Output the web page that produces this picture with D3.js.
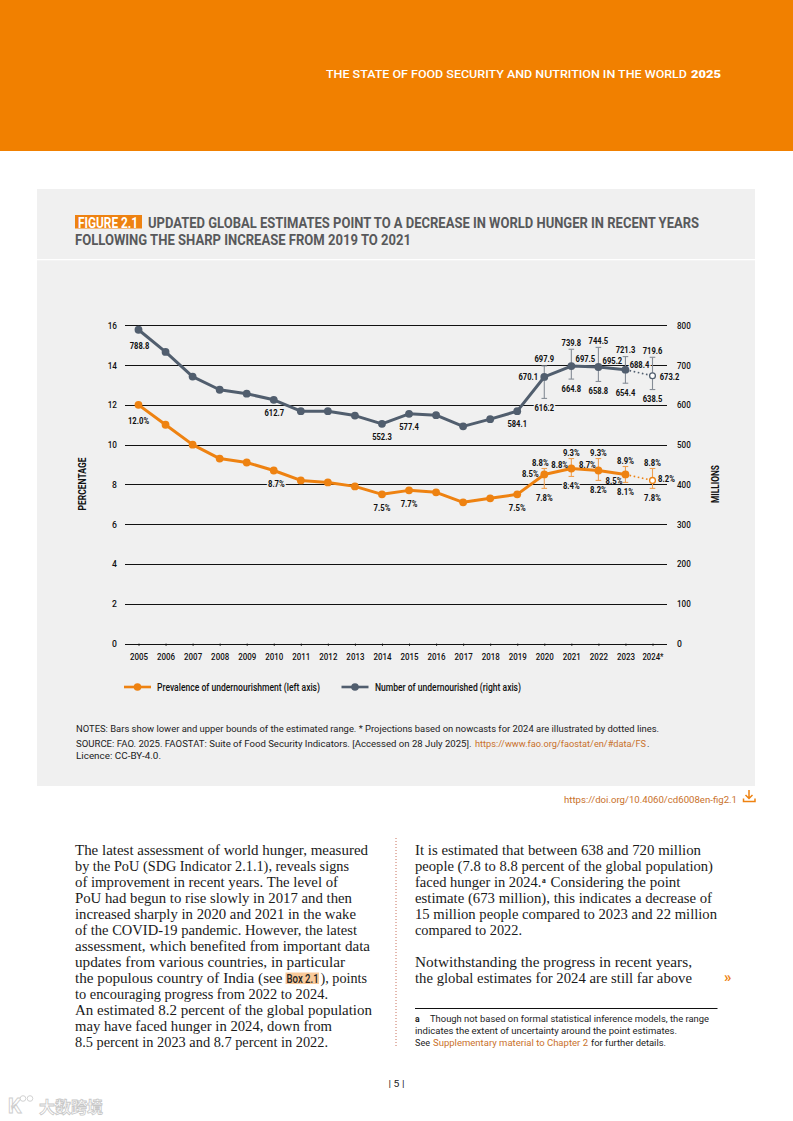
<!DOCTYPE html>
<html><head><meta charset="utf-8">
<script src="https://cdn.jsdelivr.net/npm/d3@7"></script>
<style>
html,body{margin:0;padding:0;background:#fff}
svg{display:block}
text{font-family:Roboto,sans-serif}
</style></head><body>
<svg id="page" width="793" height="1121"></svg>
<script>
// ---------- chart data ----------
const years = ["2005","2006","2007","2008","2009","2010","2011","2012","2013","2014","2015","2016","2017","2018","2019","2020","2021","2022","2023","2024*"];
const prevalence = [12.0,11.0,10.0,9.3,9.1,8.7,8.2,8.1,7.9,7.5,7.7,7.6,7.1,7.3,7.5,8.5,8.8,8.7,8.5,8.2];
const undernourished = [788.8,733,671,638,628,612.7,584,584,573,552.3,577.4,574,546,564,584.1,670.1,697.5,695.2,688.4,673.2];
const boundYears = ["2020","2021","2022","2023","2024*"];
const prevalenceLow = [7.8,8.4,8.2,8.1,7.8];
const prevalenceHigh = [8.8,9.3,9.3,8.9,8.8];
const undernourishedLow = [616.2,664.8,658.8,654.4,638.5];
const undernourishedHigh = [697.9,739.8,744.5,721.3,719.6];
const labelledPrevalenceYears = ["2005","2010","2014","2015","2019","2020","2021","2022","2023","2024*"];
const labelledNumberYears = ["2005","2010","2014","2015","2019","2020","2021","2022","2023","2024*"];
const leftTicks = [0,2,4,6,8,10,12,14,16];
const rightTicks = [0,100,200,300,400,500,600,700,800];

// ---------- layout ----------
const svg = d3.select("#page");
const ORANGE="#ee8211", SLATE="#515e6e", PANEL="#f0f0f0", LINK="#c9712b";
const x = d3.scalePoint().domain(years).range([138.5,652.5]);
const yL = d3.scaleLinear().domain([0,16]).range([643.5,325.3]);
const yR = d3.scaleLinear().domain([0,800]).range([643.5,325.3]);

function fit(parent,str,px,py,w,o={}){
  const t=parent.append("text").attr("x",px).attr("y",py).text(str)
    .attr("font-size",o.size||10).attr("fill",o.fill||"#111")
    .attr("font-weight",o.weight||"normal").style("font-family",o.font||null);
  if(w) t.attr("textLength",w).attr("lengthAdjust","spacingAndGlyphs");
  return t;
}
// width of a condensed chart numeral string
const narrowWidth=s=>d3.sum(Array.from(s),c=>c==="."?2:c==="%"?6:c==="*"?3:4.4);
const SANS='Roboto,sans-serif', SERIF='"Liberation Serif",serif';

// page furniture
svg.append("rect").attr("width",793).attr("height",151).attr("fill","#f18000");
fit(svg,"THE STATE OF FOOD SECURITY AND NUTRITION IN THE WORLD",326,78,361,{size:11,fill:"#fff",weight:500,font:SANS});
fit(svg,"2025",691,78,30,{size:11.5,fill:"#fff",weight:900,font:SANS});
svg.append("rect").attr("x",37).attr("y",189).attr("width",718).attr("height",597).attr("fill",PANEL);
svg.append("rect").attr("x",37).attr("y",259).attr("width",718).attr("height",1.3).attr("fill","#fff");

// title
svg.append("rect").attr("x",75).attr("y",215).attr("width",67).attr("height",13.5).attr("fill",ORANGE);
fit(svg,"FIGURE 2.1",78,227.7,60,{size:15,fill:"#fff",weight:"bold"});
fit(svg,"UPDATED GLOBAL ESTIMATES POINT TO A DECREASE IN WORLD HUNGER IN RECENT YEARS",148,227.7,551,{size:15,fill:"#58595b",weight:"bold"});
fit(svg,"FOLLOWING THE SHARP INCREASE FROM 2019 TO 2021",75,245,336,{size:15,fill:"#58595b",weight:"bold"});

// grid
const chart = svg.append("g");
chart.append("g").selectAll("line").data(leftTicks).join("line")
  .attr("x1",125).attr("x2",667).attr("y1",d=>Math.round(yL(d))+.5).attr("y2",d=>Math.round(yL(d))+.5)
  .attr("stroke","#111").attr("stroke-width",1);

// axes
const axL = chart.append("g").attr("transform","translate(117,0)").call(d3.axisLeft(yL).tickValues(leftTicks).tickSize(0).tickPadding(0));
const axR = chart.append("g").attr("transform","translate(677,0)").call(d3.axisRight(yR).tickValues(rightTicks).tickSize(0).tickPadding(0));
const axB = chart.append("g").attr("transform","translate(0,643.5)").call(d3.axisBottom(x).tickSize(2.5).tickPadding(7.5));
[axL,axR,axB].forEach(a=>{
  a.select(".domain").remove();
  a.selectAll("text").attr("font-size",9.5).attr("fill","#111").attr("font-weight",500)
    .attr("lengthAdjust","spacingAndGlyphs").attr("textLength",function(){return narrowWidth(this.textContent)+.5;});
});
axB.selectAll("line").attr("stroke","#111").attr("stroke-width",.8);

chart.append("text").attr("transform","translate(86,484) rotate(-90)").attr("text-anchor","middle")
  .attr("font-size",10).attr("font-weight","bold").attr("fill","#111").attr("textLength",53).attr("lengthAdjust","spacingAndGlyphs").text("PERCENTAGE");
chart.append("text").attr("transform","translate(719,484) rotate(-90)").attr("text-anchor","middle")
  .attr("font-size",10).attr("font-weight","bold").attr("fill","#111").attr("textLength",38).attr("lengthAdjust","spacingAndGlyphs").text("MILLIONS");

// series
function drawSeries(vals,lows,highs,y,color,barColor){
  const g=chart.append("g");
  const line=d3.line().x((d,i)=>x(years[i])).y(d=>y(d));
  const b=boundYears.map((yr,i)=>({yr,lo:lows[i],hi:highs[i]}));
  g.selectAll("line.bar").data(b).join("line").attr("class","bar")
    .attr("x1",d=>x(d.yr)).attr("x2",d=>x(d.yr)).attr("y1",d=>y(d.lo)).attr("y2",d=>y(d.hi))
    .attr("stroke",barColor).attr("stroke-width",1.1);
  ["lo","hi"].forEach(k=>g.selectAll("line.cap"+k).data(b).join("line").attr("class","cap"+k)
    .attr("x1",d=>x(d.yr)-2.8).attr("x2",d=>x(d.yr)+2.8).attr("y1",d=>y(d[k])).attr("y2",d=>y(d[k]))
    .attr("stroke",barColor).attr("stroke-width",1.1));
  const n=vals.length;
  g.append("path").attr("d",line(vals.slice(0,n-1))).attr("fill","none").attr("stroke",color).attr("stroke-width",3).attr("stroke-linejoin","round");
  g.append("line").attr("x1",x(years[n-2])).attr("x2",x(years[n-1])).attr("y1",y(vals[n-2])).attr("y2",y(vals[n-1]))
    .attr("stroke",color).attr("stroke-width",1.6).attr("stroke-dasharray","1.6 2.6");
  g.selectAll("circle").data(vals).join("circle")
    .attr("cx",(d,i)=>x(years[i])).attr("cy",d=>y(d)).attr("r",(d,i)=>i===n-1?2.9:3.9)
    .attr("fill",(d,i)=>i===n-1?"#fff":color).attr("stroke",color).attr("stroke-width",(d,i)=>i===n-1?1.3:0);
}
drawSeries(undernourished,undernourishedLow,undernourishedHigh,yR,SLATE,"#858c96");
drawSeries(prevalence,prevalenceLow,prevalenceHigh,yL,ORANGE,"#f0a050");

// labels: placement relative to the mark
const fmtN=d3.format(".1f"), fmtP=d=>d3.format(".1f")(d)+"%";
const labels=svg.append("g");
function put(v,yr,yScale,fmt,dx,dy,halo){
  const s=fmt(v);
  const t=labels.append("text").attr("x",x(yr)+dx).attr("y",yScale(v)+dy+3.3)
    .attr("text-anchor","middle").attr("font-size",9.6).attr("font-weight",700).attr("fill","#111")
    .attr("textLength",narrowWidth(s)).attr("lengthAdjust","spacingAndGlyphs").text(s);
  if(halo) t.attr("stroke",PANEL).attr("stroke-width",3.5).style("paint-order","stroke");
}
const numPlace={"2005":[1,16],"2010":[0.5,13],"2014":[0,13],"2015":[0,13],"2019":[0,12.5],"2020":[-16,0],"2021":[14,-7],"2022":[14,-6],"2023":[14,-5,1],"2024*":[17,1]};
const pctPlace={"2005":[0,16],"2010":[2.6,13,1],"2014":[0,13],"2015":[0,13.6],"2019":[0,13],"2020":[-14,-0.5],"2021":[-11.7,-4],"2022":[-11,-6],"2023":[-11.5,6],"2024*":[14,-1.4]};
labelledNumberYears.forEach(yr=>{const p=numPlace[yr];put(undernourished[years.indexOf(yr)],yr,yR,fmtN,p[0],p[1],p[2]);});
labelledPrevalenceYears.forEach(yr=>{const p=pctPlace[yr];put(prevalence[years.indexOf(yr)],yr,yL,fmtP,p[0],p[1],p[2]);});
boundYears.forEach((yr,i)=>{
  put(undernourishedHigh[i],yr,yR,fmtN,0,-6.8);
  put(undernourishedLow[i],yr,yR,fmtN,0,9.5,yr==="2020");
  put(prevalenceHigh[i],yr,yL,fmtP,yr==="2020"?-4:0,-5.5);
  put(prevalenceLow[i],yr,yL,fmtP,0,9.6,yr==="2021");
});

// legend
const legend=[["Prevalence of undernourishment (left axis)",ORANGE,124,157,163],["Number of undernourished (right axis)",SLATE,341.5,375,146]];
legend.forEach(([t,c,lx,tx,w])=>{
  svg.append("line").attr("x1",lx).attr("x2",lx+27).attr("y1",687).attr("y2",687).attr("stroke",c).attr("stroke-width",2.6);
  svg.append("circle").attr("cx",lx+13.5).attr("cy",687).attr("r",3.8).attr("fill",c);
  fit(svg,t,tx,690.8,w,{size:10.5,weight:500});
});

// notes
const S={size:9.2,font:SANS,fill:"#222"};
fit(svg,"NOTES: Bars show lower and upper bounds of the estimated range. * Projections based on nowcasts for 2024 are illustrated by dotted lines.",76,731.5,583,S);
fit(svg,"SOURCE: FAO. 2025. FAOSTAT: Suite of Food Security Indicators. [Accessed on 28 July 2025].",76,746.5,395.5,S);
fit(svg,"https://www.fao.org/faostat/en/#data/FS",475,746.5,171,{...S,fill:LINK});
fit(svg,".",647,746.5,null,S);
fit(svg,"Licence: CC-BY-4.0.",76,758.5,85,S);
fit(svg,"https://doi.org/10.4060/cd6008en-fig2.1",564,803,173,{...S,fill:LINK});
svg.append("path").attr("d","M749 790v8M745.5 795l3.5 3.5 3.5-3.5M743.5 798.5v3h11.5v-3")
  .attr("fill","none").attr("stroke",ORANGE).attr("stroke-width",1.5);

// body text
const B={size:13.8,font:SERIF,fill:"#1a1a1a"};
const BASE=854.5;
const leftCol=[["The latest assessment of world hunger, measured",293],["by the PoU (SDG Indicator 2.1.1), reveals signs",274],["of improvement in recent years. The level of",263],["PoU had begun to rise slowly in 2017 and then",277],["increased sharply in 2020 and 2021 in the wake",281],["of the COVID-19 pandemic. However, the latest",282],["assessment, which benefited from important data",295],["updates from various countries, in particular",270],null,["to encouraging progress from 2022 to 2024.",253],["An estimated 8.2 percent of the global population",297],["may have faced hunger in 2024, down from",257],["8.5 percent in 2023 and 8.7 percent in 2022.",253]];
leftCol.forEach((l,i)=>{ if(l) fit(svg,l[0],75,BASE+16*i,l[1],B); });
svg.append("rect").attr("x",285.5).attr("y",972.5).attr("width",33.5).attr("height",11.5).attr("fill","#f8c99a");
fit(svg,"the populous country of India (see",75,BASE+128,207.5,B);
svg.append("text").attr("transform",`translate(286.5,${BASE+128}) scale(.8,1)`).attr("font-size",12).attr("font-weight",500).attr("fill","#222").text("Box 2.1");
fit(svg,"), points",320.5,BASE+128,46.5,B);
const rightCol=[["It is estimated that between 638 and 720 million",286,0],["people (7.8 to 8.8 percent of the global population)",298,1],["estimate (673 million), this indicates a decrease of",297,3],["15 million people compared to 2023 and 22 million",302,4],["compared to 2022.",107,5],["Notwithstanding the progress in recent years,",277,7],["the global estimates for 2024 are still far above",277,8]];
rightCol.forEach(l=>fit(svg,l[0],415,BASE+16*l[2],l[1],B));
fit(svg,"faced hunger in 2024.",415,BASE+32,126.5,B);
fit(svg,"a",542,BASE+28,null,{size:7.5,font:SERIF,weight:"bold",fill:"#1a1a1a"});
fit(svg,"Considering the point",550.5,BASE+32,130,B);
fit(svg,"»",724,982,null,{size:15,font:SANS,weight:"bold",fill:ORANGE});

// separator and footnote
svg.append("line").attr("x1",396).attr("x2",396).attr("y1",838).attr("y2",1046).attr("stroke","#c8705a").attr("stroke-width",1).attr("stroke-dasharray","1 2");
svg.append("line").attr("x1",415).attr("x2",717.5).attr("y1",1008.5).attr("y2",1008.5).attr("stroke","#111").attr("stroke-width",1);
const F={size:8.6,font:SANS,fill:"#222"};
fit(svg,"a",415,1022,null,{...F,weight:"bold"});
fit(svg,"Though not based on formal statistical inference models, the range",430,1022,279,F);
fit(svg,"indicates the extent of uncertainty around the point estimates.",415,1034,262,F);
fit(svg,"See",415,1046,15,F);
fit(svg,"Supplementary material to Chapter 2",433,1046,155,{...F,fill:LINK});
fit(svg,"for further details.",591,1046,75,F);
fit(svg,"| 5 |",388.5,1087,16,{size:9,font:SANS,fill:"#222"});

// watermark
const wm=svg.append("g").attr("opacity",.75);
wm.append("text").attr("x",8).attr("y",1113).attr("font-size",21).attr("font-weight","bold").attr("fill","#fff").attr("stroke","#bdbdbd").attr("stroke-width",.9).text("K");
[[23,1098.5],[30,1098.5]].forEach(c=>wm.append("circle").attr("cx",c[0]).attr("cy",c[1]).attr("r",2.8).attr("fill","#fff").attr("stroke","#bdbdbd").attr("stroke-width",.9));
wm.append("text").attr("x",39).attr("y",1113).attr("font-size",16).attr("font-weight","bold").attr("fill","#fff").attr("stroke","#b5b5b5").attr("stroke-width",.8).style("font-family",'"Noto Sans CJK SC",sans-serif').text("大数跨境");
</script>
</body></html>
